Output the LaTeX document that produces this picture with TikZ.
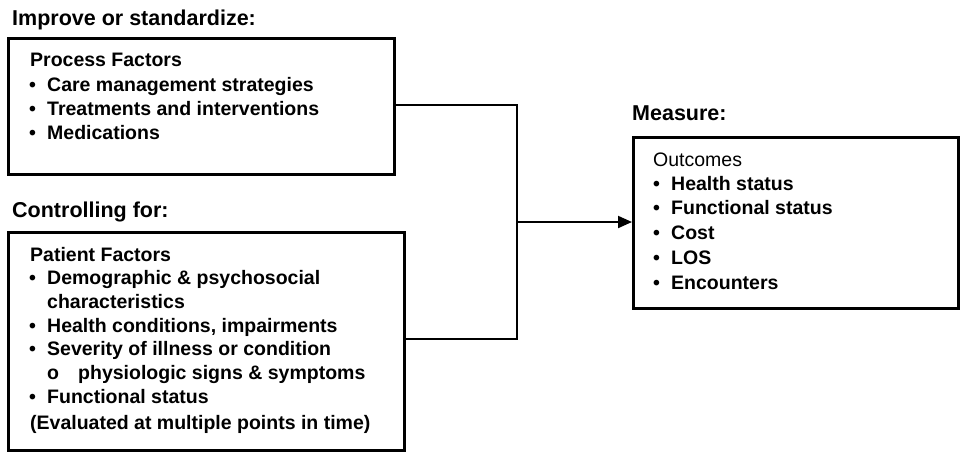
\documentclass[tikz,border=0pt]{standalone}
\usepackage{fontspec}
\setmainfont{Liberation Sans}
\usetikzlibrary{arrows.meta}
\newcommand{\itemdot}{\makebox[18pt][l]{\textbullet}}
\newcommand{\subdot}{\makebox[31pt][l]{o}}
\tikzset{
  txt/.style={anchor=base west, inner sep=0pt, font=\fontsize{19.5}{24}\selectfont\bfseries},
  head/.style={txt, font=\fontsize{21.5}{24}\selectfont\bfseries},
  plain/.style={txt, font=\fontsize{19.5}{24}\selectfont},
  frame/.style={draw, line width=2.6pt, anchor=north west, inner sep=0pt},
  conn/.style={draw, line width=2pt},
  arr/.style={conn, -{Triangle[length=14pt,width=12pt]}}
}
\begin{document}
\begin{tikzpicture}[x=1pt,y=-1pt]
\useasboundingbox (0,0) rectangle (960,453);

% group headings
\node[head] (h1) at (12,25) {Improve or standardize:};
\node[head] (h2) at (12,217) {Controlling for:};
\node[head] (h3) at (632,120) {Measure:};

% boxes
\node[frame, minimum width=386pt, minimum height=136pt] (proc) at (7,37) {};
\node[frame, minimum width=396pt, minimum height=218pt] (pat) at (7,231) {};
\node[frame, minimum width=325pt, minimum height=171pt] (out) at (632,136) {};

% process factors
\node[txt] (p0) at (30,66) {Process Factors};
\node[txt] (p1) at (29,91) {\itemdot Care management strategies};
\node[txt] (p2) at (29,115) {\itemdot Treatments and interventions};
\node[txt] (p3) at (29,139) {\itemdot Medications};

% patient factors
\node[txt] (q0) at (30,261) {Patient Factors};
\node[txt] (q1) at (29,284) {\itemdot Demographic \& psychosocial};
\node[txt] (q2) at (47,308) {characteristics};
\node[txt] (q3) at (29,332) {\itemdot Health conditions, impairments};
\node[txt] (q4) at (29,355) {\itemdot Severity of illness or condition};
\node[txt] (q5) at (47,379) {\subdot physiologic signs \& symptoms};
\node[txt] (q6) at (29,403) {\itemdot Functional status};
\node[txt] (q7) at (30,429) {(Evaluated at multiple points in time)};

% outcomes
\node[plain] (o0) at (653,166) {Outcomes};
\node[txt] (o1) at (653,190) {\itemdot Health status};
\node[txt] (o2) at (653,214) {\itemdot Functional status};
\node[txt] (o3) at (653,239) {\itemdot Cost};
\node[txt] (o4) at (653,264) {\itemdot LOS};
\node[txt] (o5) at (653,289) {\itemdot Encounters};

% connectors
\coordinate (jt) at (517,105);
\coordinate (jb) at (517,339);
\coordinate (jm) at (517,222);
\draw[conn] (jt -| proc.east) -- (jt) -- (jb) -- (jb -| pat.east);
\draw[arr] (jm) -- (jm -| out.west);
\end{tikzpicture}
\end{document}
